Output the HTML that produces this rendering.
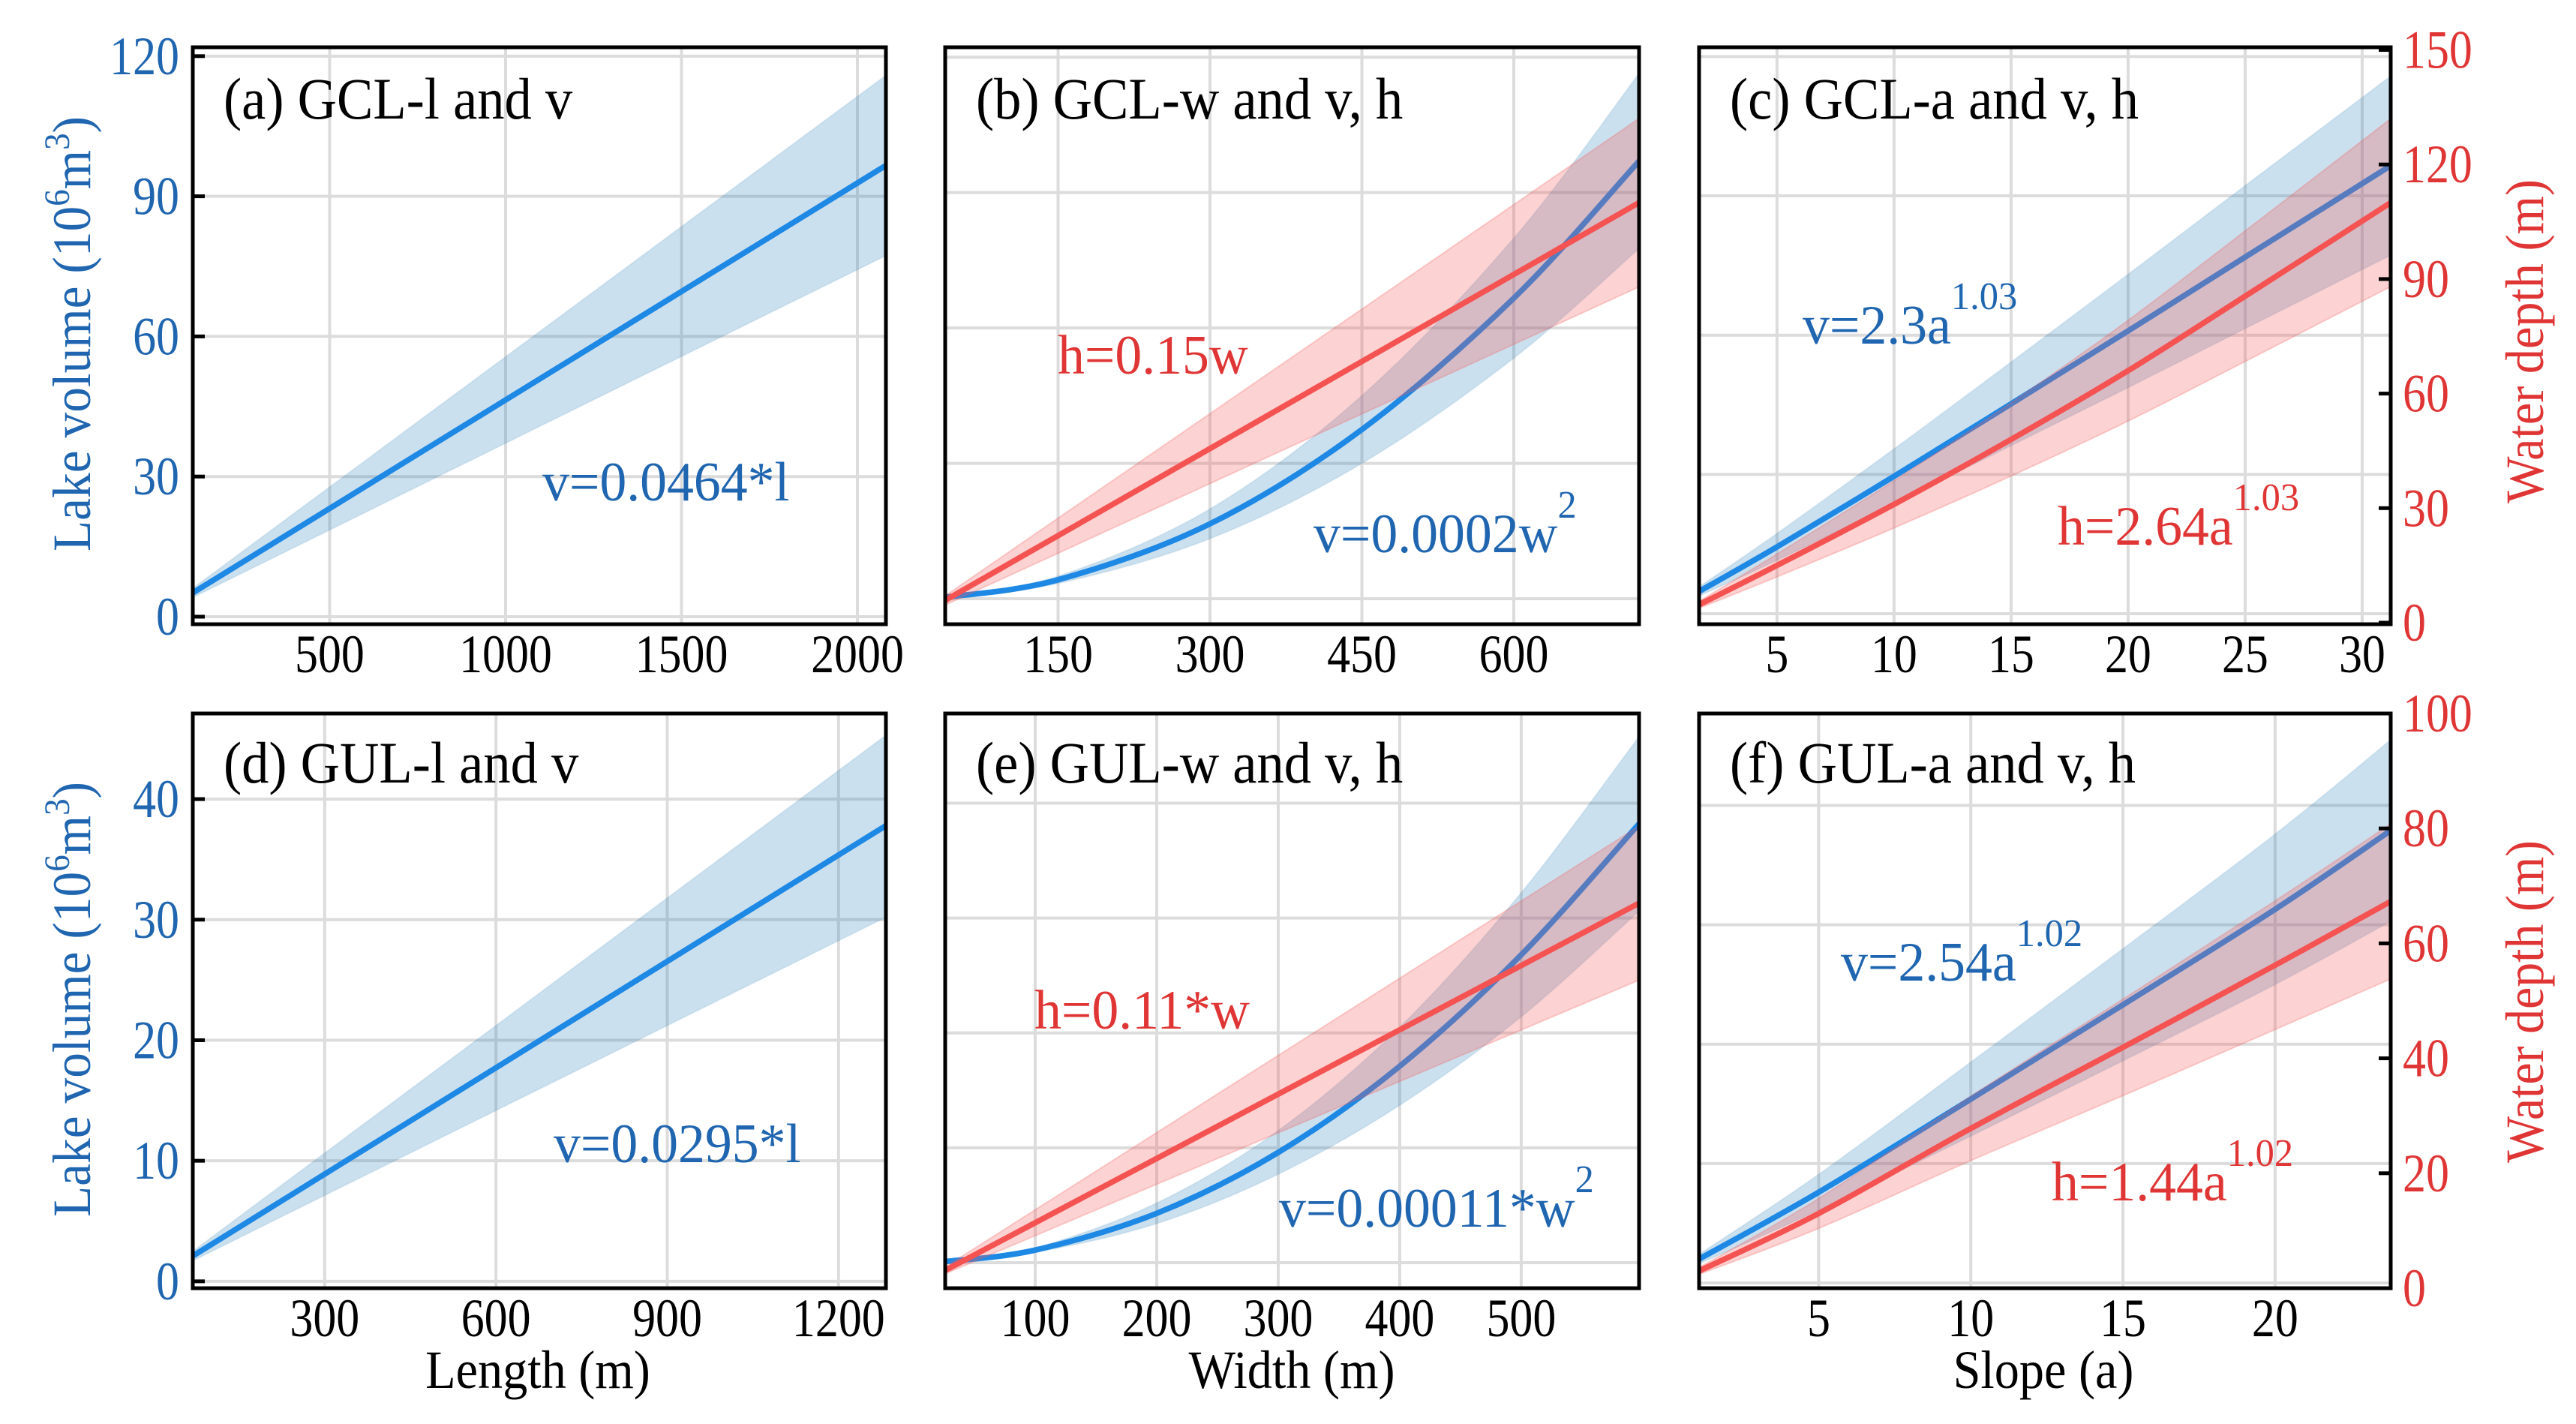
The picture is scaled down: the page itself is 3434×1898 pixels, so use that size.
<!DOCTYPE html>
<html><head><meta charset="utf-8">
<style>
html,body{margin:0;padding:0;background:#fff;}
svg{display:block;font-family:"Liberation Serif","DejaVu Serif",serif;}
</style></head>
<body>
<svg id="fig" width="3434" height="1898" viewBox="0 0 3434 1898" xmlns="http://www.w3.org/2000/svg"></svg>
<script>
// ---------- data ----------
// (a) GCL length vs volume
const aX=[111,2081];
const aV=[5.1,96.6];
const aVhi=[6.1,115.9];
const aVlo=[4.1,77.3];
// (b) GCL width vs volume & depth
const bX=[38.5,150,300,450,600,723.7];
const bV=[0.3,4.2,16.6,37.5,66.6,97];
const bVhi=[0.36,5.0,19.9,45.0,79.9,116.4];
const bVlo=[0.24,3.4,13.3,30.0,53.3,77.6];
const bHX=[38.5,723.7];
const bH=[6.2,109.6];
const bHhi=[7.4,131.5];
const bHlo=[5.0,87.7];
// (c) GCL slope vs volume & depth
const cX=[1.67,5,10,15,20,25,31.22];
const cV=[4.8,14.4,29.6,45.2,60.9,76.8,96.5];
const cVhi=[5.8,17.3,35.5,54.2,73.1,92.2,115.8];
const cVlo=[3.8,11.5,23.7,36.2,48.7,61.4,77.2];
const cH=[4.7,15.0,31.0,48.0,66.0,85.5,110];
const cHhi=[5.6,18.0,37.2,57.6,79.2,102.6,132];
const cHlo=[3.8,12.0,24.8,38.4,52.8,68.4,88];
// (d) GUL length vs volume
const dX=[69,1283];
const dV=[2.1,37.8];
const dVhi=[2.5,45.3];
const dVlo=[1.7,30.2];
// (e) GUL width vs volume & depth
const eX=[25.9,100,200,300,400,500,597];
const eV=[0.1,1.1,4.3,9.6,17.1,26.8,38.2];
const eVhi=[0.12,1.3,5.2,11.5,20.5,32.2,45.8];
const eVlo=[0.08,0.9,3.4,7.7,13.7,21.4,30.6];
const eHX=[25.9,597];
const eH=[3.1,67];
const eHhi=[3.7,80.4];
const eHlo=[2.5,53.6];
// (f) GUL slope vs volume & depth
const fX=[1.07,5,10,15,20,23.8];
const fV=[2.0,7.6,15.4,23.3,31.3,37.9];
const fVhi=[2.4,9.1,18.5,28.0,37.6,45.5];
const fVlo=[1.6,6.1,12.3,18.6,25.0,30.3];
const fH=[3.0,13.0,27.8,41.9,56.2,67.3];
const fHhi=[3.6,15.6,33.4,50.3,67.4,80.8];
const fHlo=[2.4,10.4,22.2,33.5,45.0,53.8];
// tick labels
const aXT=[500,1000,1500,2000], topVT=[0,30,60,90,120];
const bXT=[150,300,450,600];
const cXT=[5,10,15,20,25,30], cHT=[0,30,60,90,120,150];
const dXT=[300,600,900,1200], botVT=[0,10,20,30,40];
const eXT=[100,200,300,400,500];
const fXT=[5,10,15,20], fHT=[0,20,40,60,80,100];

// ---------- drawing ----------
const NS="http://www.w3.org/2000/svg";
const svg=document.getElementById('fig');
function mk(tag,attrs,parent){const e=document.createElementNS(NS,tag);for(const k in attrs)e.setAttribute(k,attrs[k]);(parent||svg).appendChild(e);return e;}
const BLUE="rgb(30,136,229)", RED="rgb(245,82,82)", BLUET="#1f65b0", REDT="#e03535";
const BANDB="rgba(31,119,180,0.23)", BANDR="rgba(245,90,90,0.27)";

function scale(d0,d1,p0,p1){return v=>p0+(v-d0)/(d1-d0)*(p1-p0);}
function smoothPath(pts){
  if(pts.length<3){return 'M'+pts.map(p=>p[0].toFixed(1)+','+p[1].toFixed(1)).join('L');}
  let d='M'+pts[0][0]+','+pts[0][1];
  for(let i=0;i<pts.length-1;i++){
    const p0=pts[Math.max(i-1,0)],p1=pts[i],p2=pts[i+1],p3=pts[Math.min(i+2,pts.length-1)];
    const c1=[p1[0]+(p2[0]-p0[0])/6,p1[1]+(p2[1]-p0[1])/6];
    const c2=[p2[0]-(p3[0]-p1[0])/6,p2[1]-(p3[1]-p1[1])/6];
    d+='C'+c1[0].toFixed(1)+','+c1[1].toFixed(1)+' '+c2[0].toFixed(1)+','+c2[1].toFixed(1)+' '+p2[0].toFixed(1)+','+p2[1].toFixed(1);
  }
  return d;
}
function band(g,xs,hi,lo,sx,sy,fill,edge,name){
  const up=xs.map((x,i)=>[sx(x),sy(hi[i])]);
  const dn=xs.map((x,i)=>[sx(x),sy(lo[i])]).reverse();
  let d=smoothPath(up)+'L'+smoothPath(dn).slice(1)+'Z';
  const p=mk('path',{d:d,fill:fill,stroke:edge,'stroke-width':2},g);
  
  
}
function line(g,xs,ys,sx,sy,col,name){
  const pts=xs.map((x,i)=>[sx(x),sy(ys[i])]);
  const p=mk('path',{d:smoothPath(pts),fill:'none',stroke:col,'stroke-width':7.5,'stroke-linecap':'butt'},g);
  
  
}
function txt(g,x,y,s,size,col,anchor,name,kx){
  const t=mk('text',{x:0,y:0,'font-size':size,fill:col,'text-anchor':anchor||'start',transform:'translate('+x+','+y+') scale('+(kx||1)+',1)'},g);
  t.textContent=s;
  
  
  return t;
}

function panel(P){
  const g=mk('g',{});
  
  
  const sx=scale(P.xd[0],P.xd[1],P.L,P.R);
  const sy=scale(P.yd[0],P.yd[1],P.B,P.T);
  const sy2=P.y2d?scale(P.y2d[0],P.y2d[1],P.B,P.T):null;
  const clipId='clip'+P.id;
  const cp=mk('clipPath',{id:clipId},g); mk('rect',{x:P.L,y:P.T,width:P.R-P.L,height:P.B-P.T},cp);
  const grid=mk('g',{'clip-path':'url(#'+clipId+')'},g);
  
  
  P.xt.forEach(v=>{mk('line',{x1:sx(v),x2:sx(v),y1:P.T,y2:P.B,stroke:'#dcdcdc','stroke-width':4},grid);});
  P.yt.forEach(v=>{mk('line',{x1:P.L,x2:P.R,y1:sy(v),y2:sy(v),stroke:'#dcdcdc','stroke-width':4},grid);});
  const plot=mk('g',{'clip-path':'url(#'+clipId+')'},g);
  
  
  band(plot,P.vx,P.vhi,P.vlo,sx,sy,BANDB,'rgba(31,119,180,0.1)','volume-band-'+P.id);
  line(plot,P.vx,P.v,sx,sy,BLUE,'volume-line-'+P.id);
  if(P.hx){
    band(plot,P.hx,P.hhi,P.hlo,sx,sy2,BANDR,'rgba(245,90,90,0.25)','depth-band-'+P.id);
    line(plot,P.hx,P.h,sx,sy2,RED,'depth-line-'+P.id);
  }
  const fr=mk('rect',{x:P.L,y:P.T,width:P.R-P.L,height:P.B-P.T,fill:'none',stroke:'#000','stroke-width':5},g);
  
  
  P.xt.forEach(v=>{txt(g,sx(v),P.B+64,String(v),72,'#000','middle','x-tick-label',0.86);});
  if(P.yLabels){
    P.yt.forEach(v=>{
      mk('line',{x1:P.L,x2:P.L+16,y1:sy(v),y2:sy(v),stroke:'#000','stroke-width':5},g);
      txt(g,P.L-18,sy(v)+24,String(v),72,BLUET,'end','y-tick-label',0.86);
    });
  }
  if(P.y2t){
    P.y2t.forEach(v=>{
      if(v>P.y2d[0]&&v<P.y2d[1]) mk('line',{x1:P.R-16,x2:P.R,y1:sy2(v),y2:sy2(v),stroke:'#000','stroke-width':5},g);
      txt(g,P.R+16,sy2(v)+24,String(v),72,REDT,'start','y2-tick-label',0.86);
    });
  }
  txt(g,P.L+41,P.titleY,P.title,78,'#000','start','panel-title-'+P.id,0.93);
  P.ann.forEach(a=>{
    const t=txt(g,a.x,a.y,a.s,74,a.c,'start','equation-'+P.id,0.97);
    if(a.sup){const s=mk('tspan',{'font-size':52,dy:-46},t);s.textContent=a.sup;}
  });
}

const TOP=[63,832], BOT=[951,1717];
const C1=[257,1181], C2=[1260,2185], C3=[2265,3187];

panel({id:'a',L:C1[0],R:C1[1],T:TOP[0],B:TOP[1],xd:[111,2081],yd:[-1.61,121.9],xt:aXT,yt:topVT,yLabels:true,
  vx:aX,v:aV,vhi:aVhi,vlo:aVlo,title:'(a) GCL-l and v',titleY:158,
  ann:[{x:723,y:667,s:'v=0.0464*l',c:BLUET}]});
panel({id:'b',L:C2[0],R:C2[1],T:TOP[0],B:TOP[1],xd:[38.5,723.7],yd:[-5.65,122.2],y2d:[0,150],xt:bXT,yt:topVT,
  vx:bX,v:bV,vhi:bVhi,vlo:bVlo,hx:bHX,h:bH,hhi:bHhi,hlo:bHlo,title:'(b) GCL-w and v, h',titleY:158,
  ann:[{x:1410,y:498,s:'h=0.15w',c:REDT},{x:1751,y:736,s:'v=0.0002w',c:BLUET,sup:'2'}]});
panel({id:'c',L:C3[0],R:C3[1],T:TOP[0],B:TOP[1],xd:[1.67,31.22],yd:[-2.26,122.0],y2d:[-0.4,150.7],xt:cXT,yt:topVT,y2t:cHT,
  vx:cX,v:cV,vhi:cVhi,vlo:cVlo,hx:cX,h:cH,hhi:cHhi,hlo:cHlo,title:'(c) GCL-a and v, h',titleY:158,
  ann:[{x:2403,y:458,s:'v=2.3a',c:BLUET,sup:'1.03'},{x:2743,y:726,s:'h=2.64a',c:REDT,sup:'1.03'}]});
panel({id:'d',L:C1[0],R:C1[1],T:BOT[0],B:BOT[1],xd:[69,1283],yd:[-0.57,47.1],xt:dXT,yt:botVT,yLabels:true,
  vx:dX,v:dV,vhi:dVhi,vlo:dVlo,title:'(d) GUL-l and v',titleY:1043,
  ann:[{x:738,y:1549,s:'v=0.0295*l',c:BLUET}]});
panel({id:'e',L:C2[0],R:C2[1],T:BOT[0],B:BOT[1],xd:[25.9,597],yd:[-2.22,47.8],y2d:[0,100],xt:eXT,yt:botVT,
  vx:eX,v:eV,vhi:eVhi,vlo:eVlo,hx:eHX,h:eH,hhi:eHhi,hlo:eHlo,title:'(e) GUL-w and v, h',titleY:1043,
  ann:[{x:1379,y:1371,s:'h=0.11*w',c:REDT},{x:1705,y:1635,s:'v=0.00011*w',c:BLUET,sup:'2'}]});
panel({id:'f',L:C3[0],R:C3[1],T:BOT[0],B:BOT[1],xd:[1.07,23.8],yd:[-0.44,47.7],y2d:[0,100],xt:fXT,yt:botVT,y2t:fHT,
  vx:fX,v:fV,vhi:fVhi,vlo:fVlo,hx:fX,h:fH,hhi:fHhi,hlo:fHlo,title:'(f) GUL-a and v, h',titleY:1043,
  ann:[{x:2454,y:1307,s:'v=2.54a',c:BLUET,sup:'1.02'},{x:2735,y:1600,s:'h=1.44a',c:REDT,sup:'1.02'}]});

function ytitle(x,y,parts,col,len,name){
  const t=mk('text',{x:0,y:0,'font-size':72,fill:col,'text-anchor':'middle',transform:'translate('+x+','+y+') rotate(-90)',textLength:len,lengthAdjust:'spacingAndGlyphs'});
  
  
  parts.forEach(p=>{const s=mk('tspan',p.a||{},t);s.textContent=p.s;});
}
const volParts=[{s:'Lake volume (10'},{s:'6',a:{'font-size':48,dy:-28}},{s:'m',a:{dy:28}},{s:'3',a:{'font-size':48,dy:-28}},{s:')',a:{dy:28}}];
ytitle(120,445,volParts,BLUET,580,'y-axis-title-volume-top');
ytitle(120,1332,volParts,BLUET,580,'y-axis-title-volume-bottom');
ytitle(3390,455,[{s:'Water depth (m)'}],REDT,432,'y-axis-title-depth-top');
ytitle(3390,1335,[{s:'Water depth (m)'}],REDT,430,'y-axis-title-depth-bottom');
txt(svg,717,1850,'Length (m)',72,'#000','middle','x-axis-title-length',0.92);
txt(svg,1722,1850,'Width (m)',72,'#000','middle','x-axis-title-width',0.92);
txt(svg,2724,1850,'Slope (a)',72,'#000','middle','x-axis-title-slope',0.92);
</script>
</body></html>
